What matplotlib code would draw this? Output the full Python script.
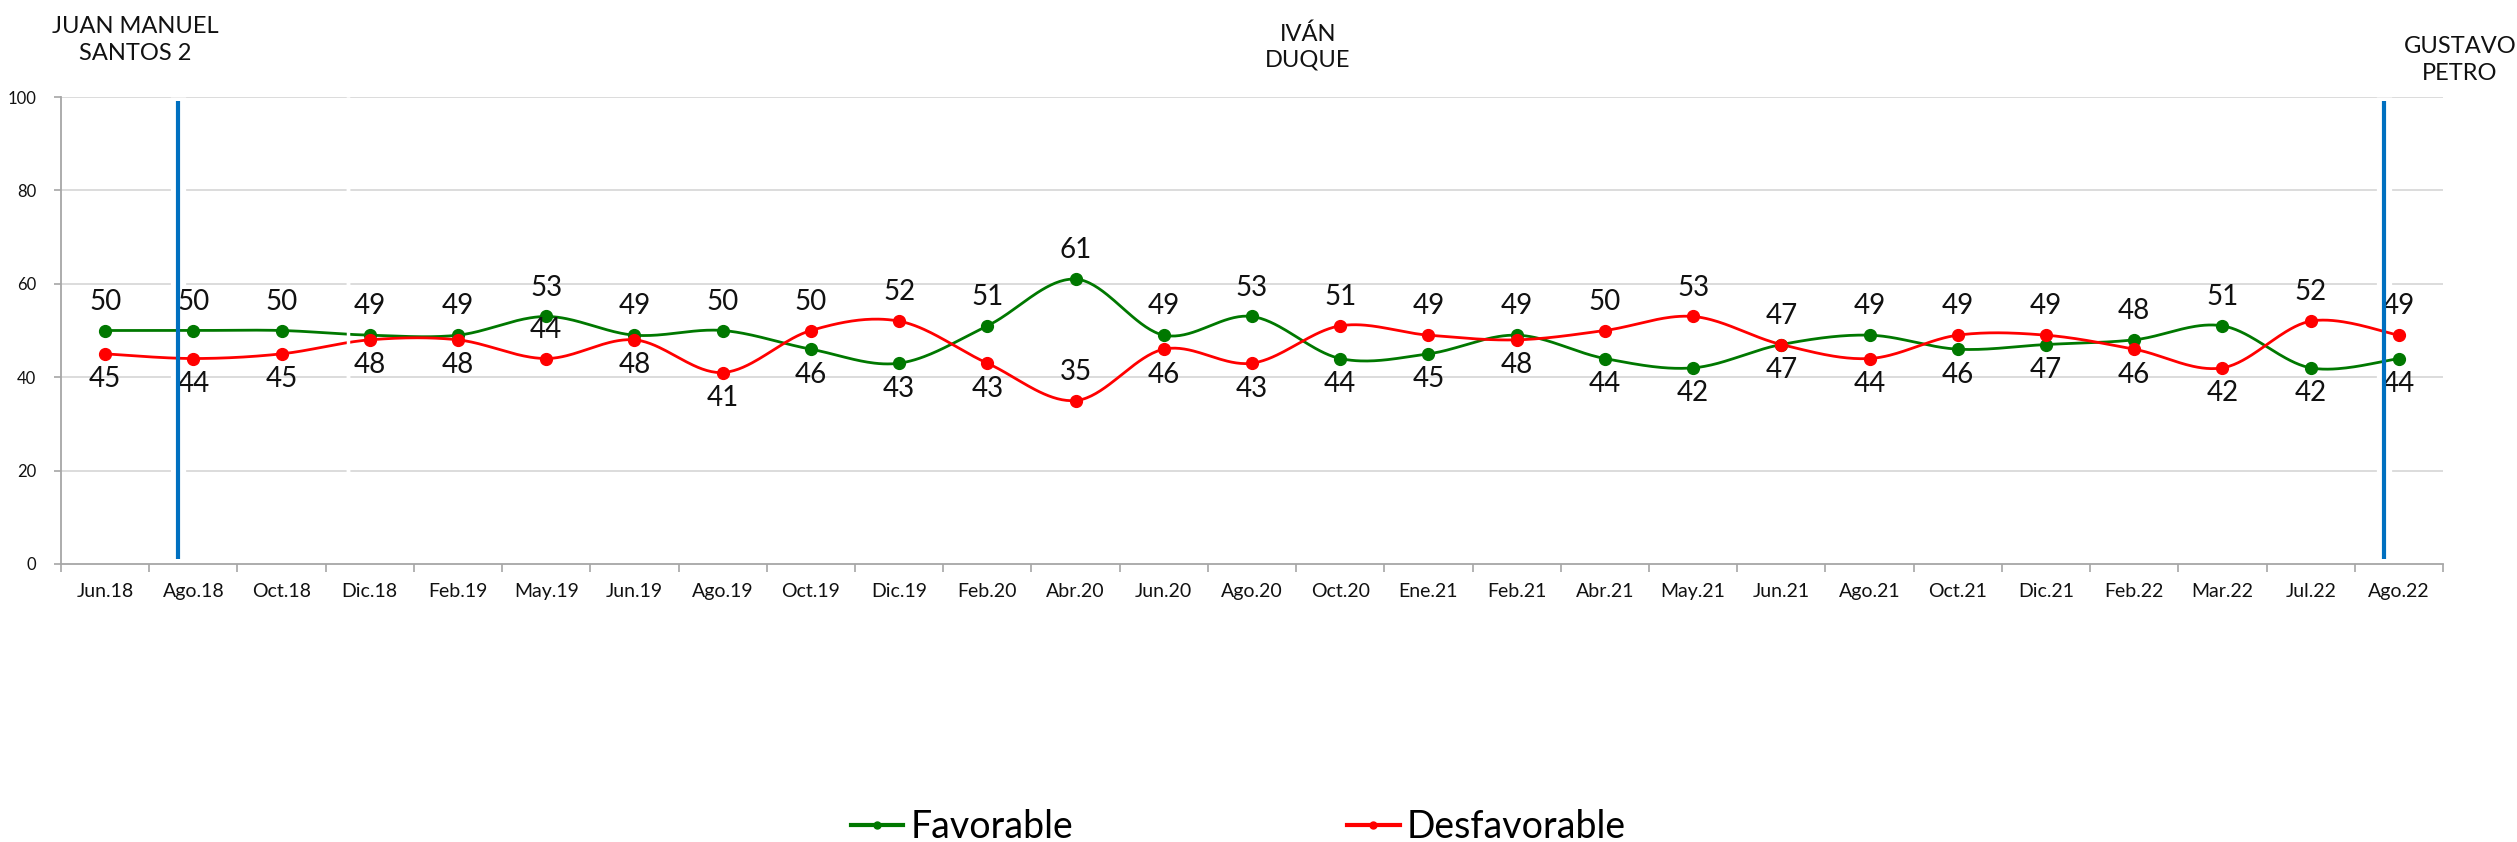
import numpy as np
import matplotlib
matplotlib.use("Agg")
import matplotlib.pyplot as plt
from matplotlib.lines import Line2D

plt.rcParams['font.family'] = ['Lato', 'DejaVu Sans']

categories = ["Jun.18", "Ago.18", "Oct.18", "Dic.18", "Feb.19", "May.19", "Jun.19", "Ago.19",
              "Oct.19", "Dic.19", "Feb.20", "Abr.20", "Jun.20", "Ago.20", "Oct.20", "Ene.21",
              "Feb.21", "Abr.21", "May.21", "Jun.21", "Ago.21", "Oct.21", "Dic.21", "Feb.22",
              "Mar.22", "Jul.22", "Ago.22"]
favorable = [50, 50, 50, 49, 49, 53, 49, 50, 46, 43, 51, 61, 49, 53, 44, 45, 49, 44, 42, 47,
             49, 46, 47, 48, 51, 42, 44]
desfavorable = [45, 44, 45, 48, 48, 44, 48, 41, 50, 52, 43, 35, 46, 43, 51, 49, 48, 50, 53, 47,
                44, 49, 49, 46, 42, 52, 49]
# label placement (style): 'a' above point, 'b' below point
fav_pos = list("aaaaaaaabbaaaabbabbbabbaabb")
des_pos = list("bbbbbabbaababbaabaaabaabbaa")

periods = ["JUAN MANUEL\nSANTOS 2", "IVÁN\nDUQUE", "GUSTAVO\nPETRO"]
yticks = [0, 20, 40, 60, 80, 100]

GREEN = "#007800"
RED = "#ff0000"
BLUE = "#0070c0"


def excel_smooth(x, y, n=40):
    x = np.asarray(x, float)
    y = np.asarray(y, float)
    N = len(x)
    P = np.column_stack([x, y])
    out = []
    t = np.linspace(0, 1, n)[:, None]
    for i in range(N - 1):
        p0 = P[i - 1] if i > 0 else P[i]
        p1 = P[i]
        p2 = P[i + 1]
        p3 = P[i + 2] if i + 2 < N else P[i + 1]
        c1 = p1 + (p2 - p0) / 6.0
        c2 = p2 - (p3 - p1) / 6.0
        B = (1 - t) ** 3 * p1 + 3 * (1 - t) ** 2 * t * c1 + 3 * (1 - t) * t ** 2 * c2 + t ** 3 * p2
        out.append(B if i == 0 else B[1:])
    out = np.vstack(out)
    return out[:, 0], out[:, 1]


W, H = 2517, 842
fig = plt.figure(figsize=(W / 100, H / 100), dpi=100)
left, right, bottom, top = 61, 2443, 564, 97
ax = fig.add_axes([left / W, 1 - bottom / H, (right - left) / W, (bottom - top) / H])

x = np.arange(len(categories))
ax.set_xlim(-0.5, len(categories) - 0.5)
ax.set_ylim(0, 100)

# grid
for yt in yticks[1:]:
    ax.axhline(yt, color="#d9d9d9", lw=1.3, zorder=0)

# white gaps (behind series) around period separators
sep_x = [0.83, 25.83]
for sx in sep_x:
    ax.plot([sx, sx], [0.6, 100], color="white", lw=11, zorder=1, solid_capstyle="butt")
ax.plot([2.75, 2.75], [0.6, 100], color="white", lw=2.5, zorder=1, solid_capstyle="butt")

for vals, col, pos in [(favorable, GREEN, fav_pos), (desfavorable, RED, des_pos)]:
    sx_, sy_ = excel_smooth(x, vals)
    ax.plot(sx_, sy_, color=col, lw=2.0, zorder=3)
    ax.plot(x, vals, 'o', color=col, ms=8.5, zorder=4)
    for xi, v, p in zip(x, vals, pos):
        off = 15 if p == 'a' else -24
        ax.annotate(str(v), (xi, v), xytext=(0, off), textcoords='offset points',
                    ha='center', va='baseline', fontsize=20, color='#111111', zorder=6)

ax.plot([2.75, 2.75], [0.6, 100], color="white", lw=2.5, zorder=5, solid_capstyle="butt")

for sx in sep_x:
    ax.plot([sx, sx], [1.0, 99.2], color=BLUE, lw=3.0, zorder=7, solid_capstyle="butt")

# axes styling
for s in ["top", "right"]:
    ax.spines[s].set_visible(False)
for s in ["left", "bottom"]:
    ax.spines[s].set_color("#a6a6a6")
    ax.spines[s].set_linewidth(1.3)

ax.set_yticks(yticks)
ax.set_yticklabels([str(v) for v in yticks])
ax.tick_params(axis='y', direction='out', length=5, width=1.2, color="#a6a6a6",
               labelsize=12, pad=13, labelcolor="#111111")

ax.set_xticks(np.arange(-0.5, len(categories)), minor=False)
ax.set_xticklabels([])
ax.set_xticks(x, minor=True)
ax.set_xticklabels(categories, minor=True)
ax.tick_params(axis='x', which='major', direction='out', length=6, width=1.2, color="#a6a6a6")
ax.tick_params(axis='x', which='minor', length=0, labelsize=14, pad=14, labelcolor="#111111")

# period titles
fig.text(135 / W, 1 - 40 / H, periods[0], ha='center', va='center', fontsize=17,
         linespacing=1.3, color="#111111")
fig.text(1308 / W, 1 - 47 / H, periods[1], ha='center', va='center', fontsize=17,
         linespacing=1.3, color="#111111")
fig.text(2460 / W, 1 - 60 / H, periods[2], ha='center', va='center', fontsize=17,
         linespacing=1.3, color="#111111")

handles = [Line2D([], [], color=GREEN, lw=3, marker='o', ms=5),
           Line2D([], [], color=RED, lw=3, marker='o', ms=5)]
fig.legend(handles, ["Favorable", "Desfavorable"], loc='lower center',
           bbox_to_anchor=(0.492, -0.004), ncol=2, frameon=False, fontsize=27,
           handlelength=1.4, handletextpad=0.2, columnspacing=7.3, borderpad=0,
           borderaxespad=0)

fig.savefig("out.png", dpi=100)
